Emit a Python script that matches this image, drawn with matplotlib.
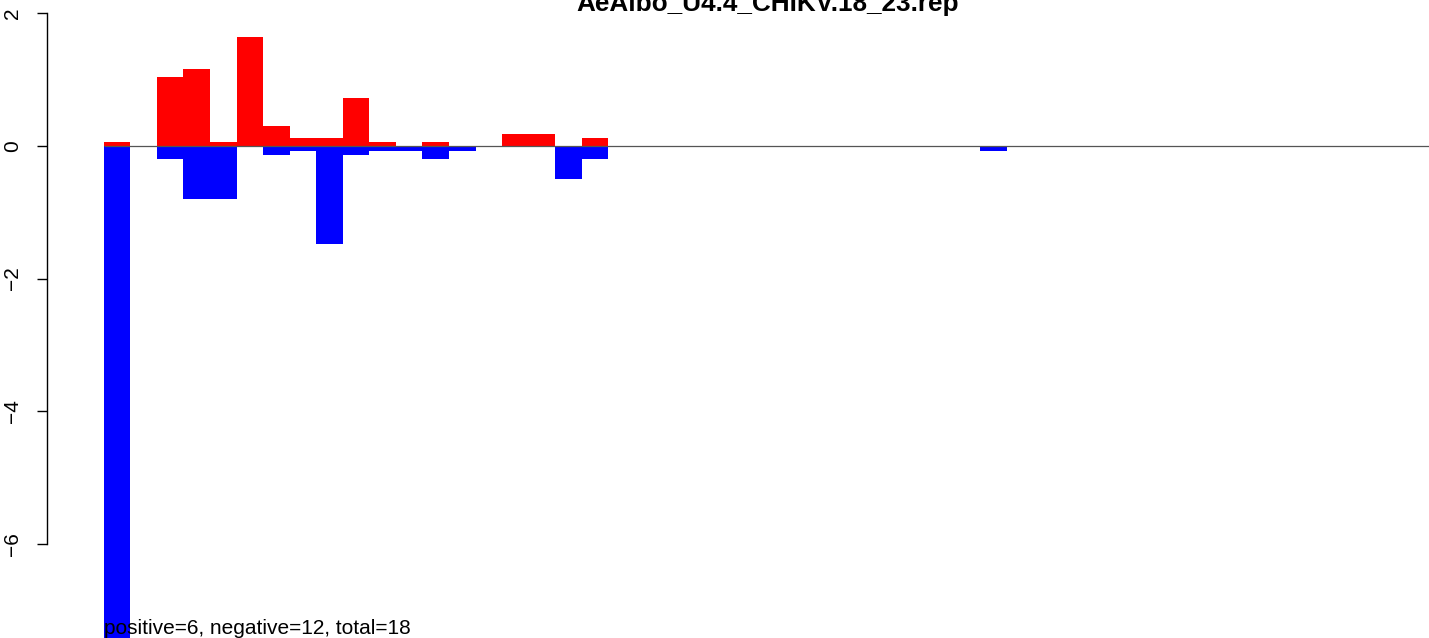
import numpy as np
import matplotlib.pyplot as plt

plt.rcParams['font.family'] = ['Liberation Sans', 'DejaVu Sans']

title = "AeAlbo_U4.4_CHIKV.18_23.rep"
note = "positive=6, negative=12, total=18"

# bar heights (one bar per bin, from the left)
pos_vals = [0.06, 0.0, 1.04, 1.16, 0.06, 1.64, 0.30, 0.12, 0.12, 0.72,
            0.06, 0.0, 0.06, 0.0, 0.0, 0.18, 0.18, 0.0, 0.12]
neg_vals = [-7.5, 0.0, -0.20, -0.80, -0.80, 0.0, -0.135, -0.075, -1.48, -0.135,
            -0.075, -0.075, -0.20, -0.075, 0.0, 0.0, 0.0, -0.50, -0.20, 0.0,
            0.0, 0.0, 0.0, 0.0, 0.0, 0.0, 0.0, 0.0, 0.0, 0.0,
            0.0, 0.0, 0.0, -0.075]
n_bins = 52
y_ticks = [-6, -4, -2, 0, 2]

W, H = 1429, 638
fig = plt.figure(figsize=(W / 100, H / 100), dpi=100)
# plot region runs from x=47 px to past the right edge, full height
ax = fig.add_axes([47 / W, 0, 1440 / W, 1])

ax.bar(np.arange(len(pos_vals)), pos_vals, width=1.0, align='edge',
       color='#ff0000', linewidth=0)
ax.bar(np.arange(len(neg_vals)), neg_vals, width=1.0, align='edge',
       color='#0000ff', linewidth=0)
ax.hlines(0, 0, n_bins, color='#555555', linewidth=0.9)

ax.set_xlim(-2.14, -2.14 + 1440 / 26.55)
ax.set_ylim(-(H - 146) / 66.3, 146 / 66.3)

for s in ['top', 'right', 'bottom']:
    ax.spines[s].set_visible(False)
ax.spines['left'].set_bounds(-6, 2)
ax.spines['left'].set_linewidth(1.0)
ax.set_xticks([])
ax.set_yticks(y_ticks)
ax.set_yticklabels([str(t).replace('-', '\u2212') for t in y_ticks],
                   rotation=90, va='center', fontsize=15)
ax.tick_params(axis='y', length=7.2, width=1.0, pad=11)

fig.text(768 / W, 1 - 11 / H, title, ha='center', va='baseline',
         fontsize=18.8, fontweight='bold')
fig.text(104 / W, 1 - 634 / H, note, ha='left', va='baseline', fontsize=15)

fig.savefig('out.png', dpi=100)
